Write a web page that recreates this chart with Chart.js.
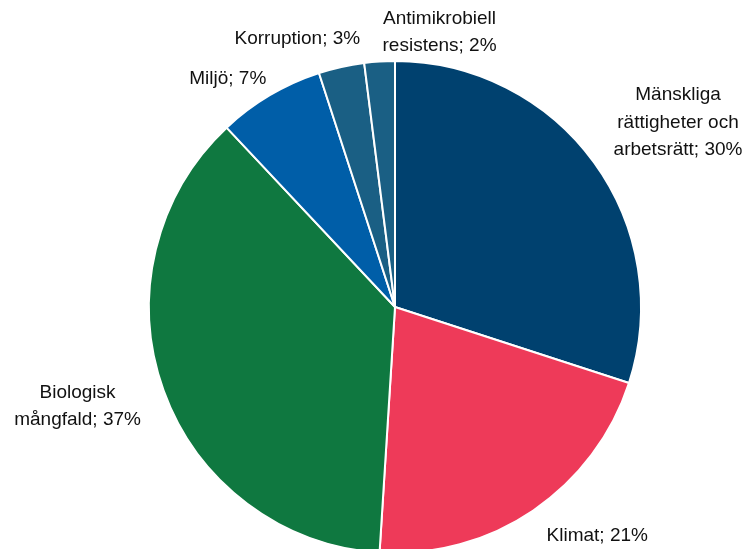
<!DOCTYPE html>
<html>
<head>
<meta charset="utf-8">
<script src="https://cdn.jsdelivr.net/npm/chart.js@4"></script>
<style>
  html, body { margin: 0; padding: 0; background: #fff; overflow: hidden; }
  #wrap { width: 750px; height: 554px; }
</style>
</head>
<body>
<div id="wrap"><canvas id="pie" width="750" height="554"></canvas></div>
<script>
const labels = [
  ["Mänskliga", "rättigheter och", "arbetsrätt; 30%"],
  ["Klimat; 21%"],
  ["Biologisk", "mångfald; 37%"],
  ["Miljö; 7%"],
  ["Korruption; 3%"],
  ["Antimikrobiell", "resistens; 2%"]
];
const shares = [30, 21, 37, 7, 3, 2];
const colors = ["#00416f", "#ee3a59", "#0f7840", "#005ea8", "#1a5f84", "#1a5f84"];

// nudge of each label's block centre from the mid point of its arc edge
const labelNudge = [[84, -40], [64, 25], [-86, 16], [-42, -16], [-44, -28], [60, -29]];

const outsideLabels = {
  id: "outsideLabels",
  afterDraw(chart) {
    const ctx = chart.ctx;
    const arcs = chart.getDatasetMeta(0).data;
    ctx.save();
    ctx.font = "19px 'Liberation Sans', Arial, sans-serif";
    ctx.fillStyle = "#111111";
    ctx.textAlign = "center";
    ctx.textBaseline = "middle";
    const lh = 27.5;
    arcs.forEach((arc, i) => {
      const mid = (arc.startAngle + arc.endAngle) / 2;
      const ex = arc.x + Math.cos(mid) * arc.outerRadius;
      const ey = arc.y + Math.sin(mid) * arc.outerRadius;
      const cx = ex + labelNudge[i][0];
      const cy = ey + labelNudge[i][1];
      const lines = labels[i];
      lines.forEach((t, j) => {
        ctx.fillText(t, cx, cy + (j - (lines.length - 1) / 2) * lh);
      });
    });
    ctx.restore();
  }
};

new Chart(document.getElementById("pie"), {
  type: "pie",
  data: {
    labels: labels.map(l => l.join(" ")),
    datasets: [{
      data: shares,
      backgroundColor: colors,
      borderColor: "#ffffff",
      borderWidth: 2
    }]
  },
  options: {
    responsive: false,
    animation: false,
    layout: { padding: { top: 60, bottom: 0, left: 148, right: 108 } },
    plugins: {
      legend: { display: false },
      tooltip: { enabled: false }
    }
  },
  plugins: [outsideLabels]
});
</script>
</body>
</html>
